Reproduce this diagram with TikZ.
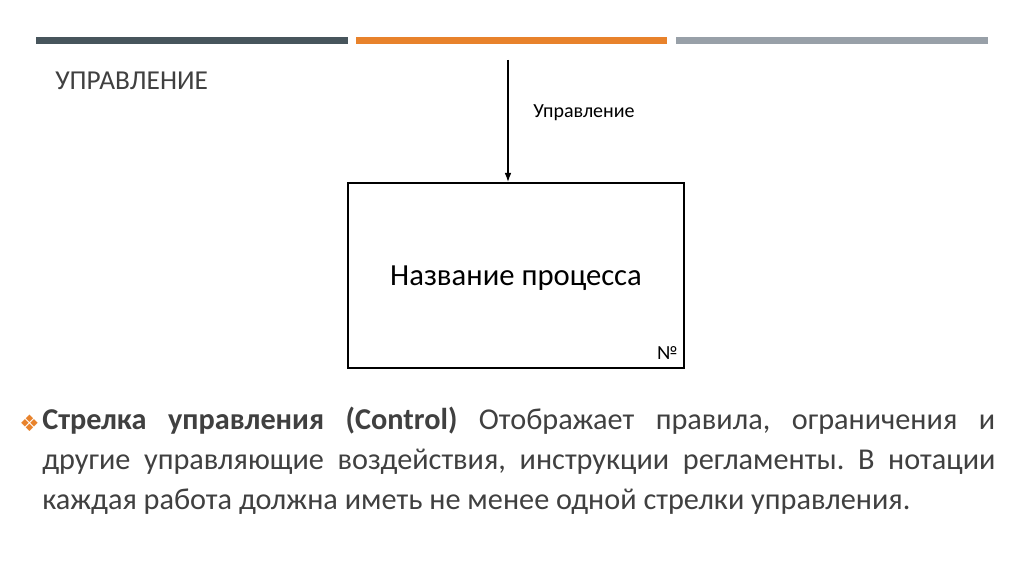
\documentclass[tikz,border=0pt]{standalone}
\usepackage{fontspec}
\setmainfont{Carlito}
\newfontfamily\symfont{DejaVu Sans}
\usepackage{xcolor}
\usetikzlibrary{positioning,arrows.meta}
\definecolor{barslate}{HTML}{47555C}
\definecolor{barorange}{HTML}{E8822B}
\definecolor{bargray}{HTML}{98A0A8}
\definecolor{txtgray}{HTML}{404040}

\begin{document}
\frenchspacing
\begin{tikzpicture}[x=0.75pt,y=-0.75pt]
	\tikzstyle{every node}+=[inner sep=0pt]
	\useasboundingbox (0,0) rectangle (1024,574);
	\fill [white] (0,0) rectangle (1024,574);
	% top bars
	\fill [barslate] (36,37) rectangle (348,44);
	\fill [barorange] (356,37) rectangle (667,44);
	\fill [bargray] (676,37) rectangle (988,44);
	\node [anchor=west, text=txtgray, font=\fontsize{20.5}{24}\selectfont] (title) at (55,81) {УПРАВЛЕНИЕ};
	% process box
	\node [draw, line width=1pt, minimum width=252pt, minimum height=138.75pt, text depth=-1.5pt, font=\fontsize{23}{27}\selectfont] (proc) at (516,275.5) {Название процесса};
	\node [anchor=south east, font=\fontsize{15}{18}\selectfont] (num) at (678,360) {№};
	\coordinate (ctl) at (508,60);
	\draw [line width=1.2pt, -{Latex[length=7pt,width=5pt]}] (ctl) -- (ctl |- proc.north);
	\node [anchor=west, font=\fontsize{15}{18}\selectfont] (ctllabel) at (533,113) {Управление};
	% description
	\node [anchor=west, text=barorange, font=\symfont\fontsize{17}{20}\selectfont] (bullet) at (19,423) {❖};
	\node [anchor=north west, text=txtgray, text width=714.75pt, align=justify, font=\fontsize{22.7}{30}\selectfont] (desc) at (42,407)
		{\textbf{Стрелка управления (Control)} Отображает правила, ограничения и\linebreak
		другие управляющие воздействия, инструкции регламенты. В нотации\linebreak
		каждая работа должна иметь не менее одной стрелки управления.};
\end{tikzpicture}
\end{document}
